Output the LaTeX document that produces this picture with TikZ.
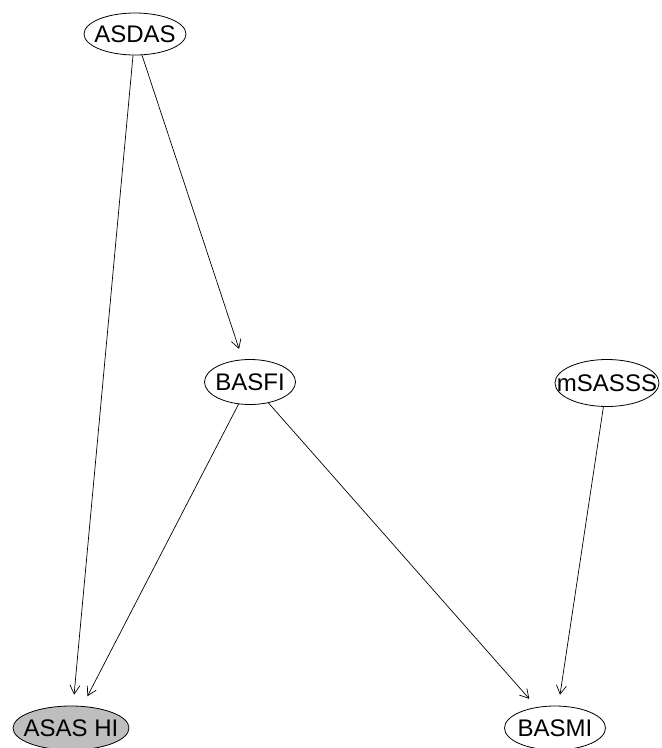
\documentclass[tikz,border=0pt]{standalone}
\usepackage{fontspec}
\setmainfont{Liberation Sans}
\usetikzlibrary{arrows.meta,shapes.geometric}
\definecolor{rgray}{HTML}{BEBEBE}
\begin{document}
\begin{tikzpicture}[x=1pt,y=-1pt,
  vnode/.style={ellipse,draw=black,line width=0.8pt,inner sep=0pt,
    font=\fontsize{24}{28}\selectfont,minimum height=44pt},
  edge/.style={draw=black,line width=0.7pt,
    -{Straight Barb[length=8.7pt,width=10pt,line width=0.7pt]},shorten >=11pt}]
\useasboundingbox (0,0) rectangle (662,748);
\node[vnode,minimum width=102pt,minimum height=42pt] (asdas) at (135,34) {\makebox[0pt]{ASDAS}};
\node[vnode,minimum width=91pt,minimum height=45pt] (basfi) at (250,382) {\makebox[0pt]{BASFI}};
\node[vnode,minimum width=104pt,minimum height=47pt] (msasss) at (607,383) {\makebox[0pt]{mSASSS}};
\node[vnode,fill=rgray,minimum width=116pt,minimum height=44pt] (asashi) at (71,728) {\makebox[0pt]{ASAS HI}};
\node[vnode,minimum width=101pt,minimum height=44pt] (basmi) at (555,728) {\makebox[0pt]{BASMI}};
\draw[edge] (asdas) -- (asashi);
\draw[edge] (asdas) -- (basfi);
\draw[edge] (basfi) -- (asashi);
\draw[edge] (basfi) -- (basmi);
\draw[edge] (msasss) -- (basmi);
\end{tikzpicture}
\end{document}
